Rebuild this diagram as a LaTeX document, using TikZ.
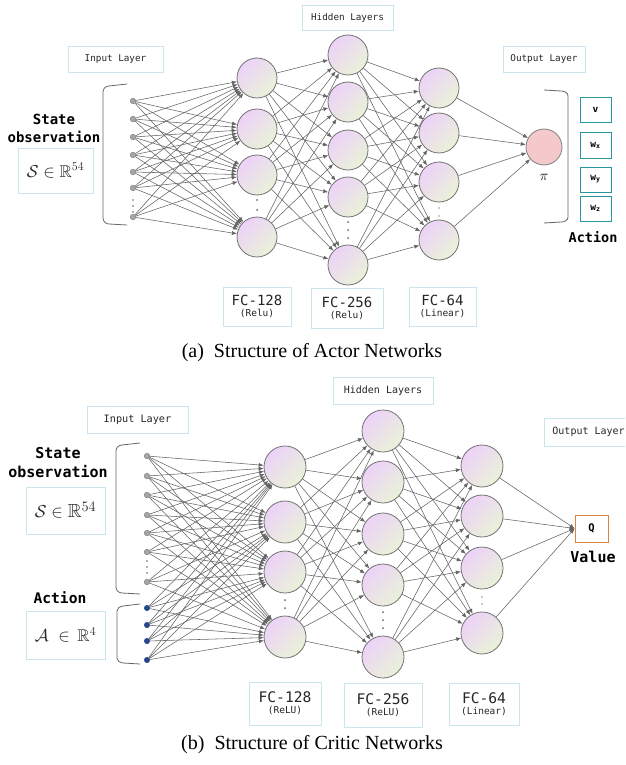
\documentclass[tikz,border=0pt]{standalone}
\usepackage{amsmath,amssymb}
\usepackage{fontspec}
\setmainfont{Liberation Serif}
\setmonofont{DejaVu Sans Mono}
\usetikzlibrary{arrows.meta}
\definecolor{nodeA}{RGB}{236,210,248}
\definecolor{nodeB}{RGB}{234,242,216}
\definecolor{boxline}{RGB}{204,228,236}
\definecolor{tealbox}{RGB}{40,150,160}
\definecolor{orangebox}{RGB}{214,135,70}
\definecolor{edgegray}{RGB}{100,100,100}
\definecolor{pinkfill}{RGB}{245,200,204}
\definecolor{dotblue}{RGB}{40,70,140}
\tikzset{
  neuron/.style={circle, draw=black!55, line width=0.8pt, minimum size=#1, inner sep=0pt,
    top color=nodeA, bottom color=nodeB, shading angle=45},
  inp/.style={circle, draw=black!50, fill=black!35, line width=0.5pt, minimum size=5.5pt, inner sep=0pt},
  inpblue/.style={circle, draw=dotblue, fill=dotblue, minimum size=5.5pt, inner sep=0pt},
  conn/.style={draw=edgegray, line width=0.55pt, -{Latex[length=5pt,width=4pt]}},
  lbl/.style={draw=boxline, line width=0.9pt, inner sep=0pt, align=center, text=black!85},
  smallmono/.style={font=\ttfamily\fontsize{9.3}{11}\selectfont},
  actbox/.style={draw=tealbox, line width=0.9pt, inner sep=0pt, minimum width=31pt,
    font=\ttfamily\bfseries\fontsize{9.5}{10}\selectfont},
  boldmono/.style={font=\ttfamily\bfseries\fontsize{#1}{#1}\selectfont, inner sep=0pt},
  brk/.style={draw=black!60, line width=0.8pt},
  ndot/.style={fill=black!60},
  caption/.style={font=\fontsize{20}{22}\selectfont, inner sep=0pt}
}
\newcommand{\fclabel}[3]{{\ttfamily\fontsize{#1}{#1}\selectfont #2}\\[-1pt]{\ttfamily\fontsize{9.5}{13}\selectfont #3}}
\begin{document}
\begin{tikzpicture}[x=1pt,y=-1pt]
\clip (0,0) rectangle (625,765);
\fill[white] (0,0) rectangle (625,765);

% ================= ACTOR =================
\node[lbl, smallmono, minimum width=95pt, minimum height=26pt] (aIn) at (115.5,59) {Input Layer};
\node[lbl, smallmono, minimum width=91pt, minimum height=25pt] (aHid) at (347.5,17.5) {Hidden Layers};
\node[lbl, smallmono, minimum width=82pt, minimum height=26pt] (aOut) at (544,59) {Output Layer};

\node[boldmono=14] (aState) at (54,119) {State};
\node[boldmono=14] (aObs) at (54,137) {observation};
\node[lbl, minimum width=75pt, minimum height=45pt, font=\fontsize{17}{20}\selectfont] (aS) at (55.5,170.5) {$\mathcal{S}\in\mathbb{R}^{54}$};

% bracket
\draw[brk] (127,84) -- (109,86) to[out=180,in=90] (103,92) -- (103,218) to[out=-90,in=180] (109,224) -- (127,225);

% input nodes
\foreach \y [count=\i] in {101,119,137,155,172,188,217}
  \node[inp] (aI-\i) at (133,\y) {};
\foreach \y in {200,206,212} \fill[ndot] (133,\y) circle (0.9pt);

% hidden layers
\foreach \y [count=\i] in {78,129,175,237}
  \node[neuron=40pt] (aA-\i) at (257,\y) {};
\foreach \y [count=\i] in {55,102,150,197,265}
  \node[neuron=40pt] (aB-\i) at (348,\y) {};
\foreach \y [count=\i] in {88,133,182,240}
  \node[neuron=40pt] (aC-\i) at (439,\y) {};
\foreach \y in {200,210} \fill[ndot] (257,\y) circle (1pt);
\foreach \y in {222,230,238} \fill[ndot] (348,\y) circle (1pt);
\foreach \y in {208,216} \fill[black!40] (439,\y) circle (0.9pt);

% output
\node[circle, draw=black!50, line width=0.8pt, fill=pinkfill, minimum size=36pt, inner sep=0pt] (aPi) at (544,147) {};
\node[font=\fontsize{15}{15}\selectfont, inner sep=0pt] (aPiL) at (544,177) {$\pi$};
\draw[brk] (544,90) -- (561,91) to[out=0,in=90] (568,96) -- (568,217) to[out=-90,in=0] (561,222) -- (544,223);

\node[actbox, minimum height=25pt] (aV) at (595.5,109.5) {v};
\node[actbox, minimum height=26pt] (aWx) at (595.5,145) {w\textsubscript{x}};
\node[actbox, minimum height=25pt] (aWy) at (595.5,179.5) {w\textsubscript{y}};
\node[actbox, minimum height=25pt] (aWz) at (595.5,208.5) {w\textsubscript{z}};
\node[boldmono=13.5] (aAct) at (593,237) {Action};

% connections
\foreach \i in {1,...,7} \foreach \j in {1,...,4} \draw[conn] (aI-\i) -- (aA-\j);
\foreach \i in {1,...,4} \foreach \j in {1,...,5} \draw[conn] (aA-\i) -- (aB-\j);
\foreach \i in {1,...,5} \foreach \j in {1,...,4} \draw[conn] (aB-\i) -- (aC-\j);
\foreach \i in {1,...,4} \draw[conn] (aC-\i) -- (aPi);

% FC labels
\node[lbl, minimum width=68pt, minimum height=39pt] (aF1) at (257,306.5) {\fclabel{14}{FC-128}{(Relu)}};
\node[lbl, minimum width=72pt, minimum height=40pt] (aF2) at (347,308) {\fclabel{14}{FC-256}{(Relu)}};
\node[lbl, minimum width=67pt, minimum height=39pt] (aF3) at (442.5,306.5) {\fclabel{14}{FC-64}{(Linear)}};

\node[caption] (capA) at (312,353) {(a)\enspace Structure of Actor Networks};

% ================= CRITIC =================
\node[lbl, font=\ttfamily\fontsize{10.2}{12}\selectfont, minimum width=101pt, minimum height=27pt] (bIn) at (137.5,419.5) {Input Layer};
\node[lbl, font=\ttfamily\fontsize{10}{12}\selectfont, minimum width=100pt, minimum height=27pt] (bHid) at (383,390.5) {Hidden Layers};
\node[lbl, font=\ttfamily\fontsize{10}{12}\selectfont, minimum height=28pt, inner xsep=8pt, anchor=west] (bOut) at (544,432) {Output Layer};

\node[boldmono=15] (bState) at (58,453) {State};
\node[boldmono=15] (bObs) at (58,472) {observation};
\node[lbl, minimum width=79pt, minimum height=47pt, font=\fontsize{19}{22}\selectfont] (bS) at (65.5,510.5) {$\mathcal{S}\in\mathbb{R}^{54}$};
\node[boldmono=14.6] (bAct) at (60,598) {Action};
\node[lbl, minimum width=79pt, minimum height=48pt, font=\fontsize{17}{20}\selectfont] (bA) at (65.5,635) {$\mathcal{A}\;\in\,\mathbb{R}^{4}$};

\draw[brk] (140,443) -- (122,445) to[out=180,in=90] (116,451) -- (116,587) to[out=-90,in=180] (122,593) -- (140,594);
\draw[brk] (140,604) -- (123,606) to[out=180,in=90] (117,611) -- (117,658) to[out=-90,in=180] (123,663) -- (140,664);

\foreach \y [count=\i] in {456,476,495,515,533,552,582}
  \node[inp] (bI-\i) at (147,\y) {};
\foreach \y [count=\i from 8] in {608,625,641,660}
  \node[inpblue] (bI-\i) at (147,\y) {};
\foreach \y in {561,567,573} \fill[ndot] (147,\y) circle (0.9pt);

\foreach \y [count=\i] in {467,522,572,637}
  \node[neuron=42pt] (bA-\i) at (285,\y) {};
\foreach \y [count=\i] in {431,482,534,585,657}
  \node[neuron=42pt] (bB-\i) at (383,\y) {};
\foreach \y [count=\i] in {466,516,568,633}
  \node[neuron=42pt] (bC-\i) at (482,\y) {};
\foreach \y in {600,608} \fill[ndot] (285,\y) circle (1pt);
\foreach \y in {612,620,628} \fill[ndot] (383,\y) circle (1pt);
\foreach \y in {597,604} \fill[black!40] (482,\y) circle (0.9pt);

\node[draw=orangebox, line width=0.9pt, minimum width=33pt, minimum height=27pt, inner sep=0pt,
  font=\ttfamily\bfseries\fontsize{10.5}{10}\selectfont] (bQ) at (591.5,528.5) {Q};
\node[boldmono=15] (bVal) at (593,557) {Value};

\foreach \i in {1,...,11} \foreach \j in {1,...,4} \draw[conn] (bI-\i) -- (bA-\j);
\foreach \i in {1,...,4} \foreach \j in {1,...,5} \draw[conn] (bA-\i) -- (bB-\j);
\foreach \i in {1,...,5} \foreach \j in {1,...,4} \draw[conn] (bB-\i) -- (bC-\j);
\foreach \i in {1,...,4} \draw[conn] (bC-\i) -- (bQ.west);

\node[lbl, minimum width=72pt, minimum height=43pt] (bF1) at (285,703.5) {\fclabel{14.6}{FC-128}{(ReLU)}};
\node[lbl, minimum width=78pt, minimum height=44pt] (bF2) at (383,705) {\fclabel{14.6}{FC-256}{(ReLU)}};
\node[lbl, minimum width=70pt, minimum height=42pt] (bF3) at (484,704) {\fclabel{14.6}{FC-64}{(Linear)}};

\node[caption] (capB) at (312,745) {(b)\enspace Structure of Critic Networks};
\end{tikzpicture}
\end{document}
